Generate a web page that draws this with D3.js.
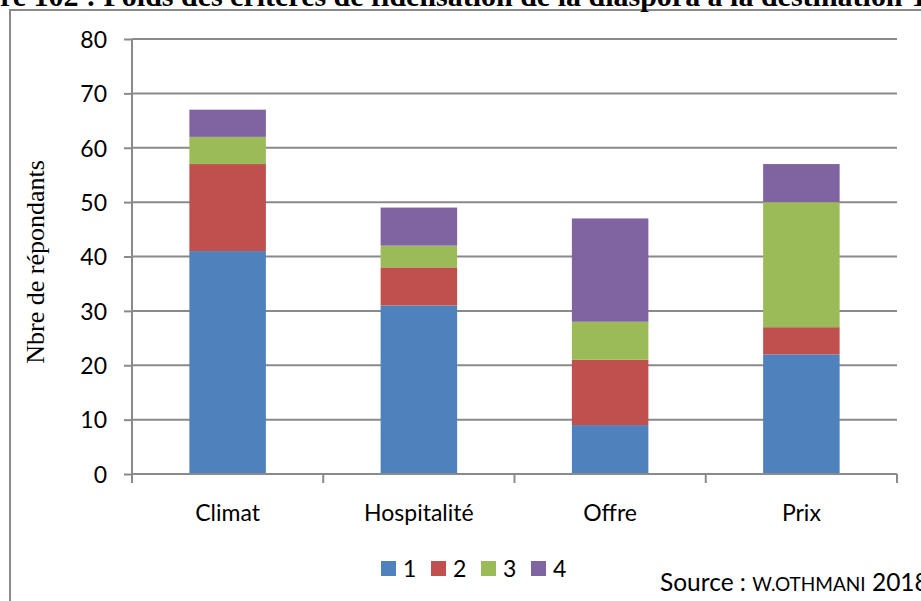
<!DOCTYPE html>
<html><head><meta charset="utf-8">
<script src="https://cdn.jsdelivr.net/npm/d3@7"></script>
<style>body{margin:0;background:#fff;overflow:hidden}svg{display:block}</style>
</head><body>
<svg id="c" width="921" height="601"></svg>
<script>
const categories = ["Climat", "Hospitalité", "Offre", "Prix"];
const seriesNames = ["1", "2", "3", "4"];
const s1 = [41, 31, 9, 22];
const s2 = [16, 7, 12, 5];
const s3 = [5, 4, 7, 23];
const s4 = [5, 7, 19, 7];
const colors = ["#4F81BD", "#C0504D", "#9BBB59", "#8064A2"];
const yTicks = [0, 10, 20, 30, 40, 50, 60, 70, 80];
const titleText = "Figure 102 : Poids des critères de fidélisation de la diaspora à la destination Tunisie";
const titlePrefix = "Figure 102 : Poids des critères de fidélisation de la diaspora à la destination ";
const titleCut = "Figu";
const yTitle = "Nbre de répondants";

const svg = d3.select("#c");
const sans = "Lato, 'Open Sans', sans-serif";
const serif = "'Liberation Serif', 'Times New Roman', serif";
const grid = "#8a8a8a";

// outer frame
svg.append("rect").attr("x", 10).attr("y", 10).attr("width", 1000).attr("height", 700)
  .attr("fill", "none").attr("stroke", grid).attr("stroke-width", 2);

// title (clipped at the top of the page)
const tt = svg.append("text").attr("y", 6).attr("font-family", serif)
  .attr("font-weight", "bold").attr("font-size", 23).text(titleText);
const tmp = svg.append("text").attr("font-family", serif).attr("font-weight", "bold")
  .attr("font-size", 23).text(titlePrefix);
const prefW = tmp.node().getComputedTextLength();
tmp.text(titleCut);
const cutW = tmp.node().getComputedTextLength();
tmp.remove();
const fs = 23 * 903 / (prefW - cutW);
tt.attr("font-size", fs).attr("x", -cutW * fs / 23);

const x = d3.scaleBand().domain(categories).range([132, 897]).paddingInner(0.6).paddingOuter(0.3);
const y = d3.scaleLinear().domain([0, 80]).range([474, 39]);

// gridlines
svg.append("g").selectAll("line").data(yTicks.filter(d => d > 0)).join("line")
  .attr("x1", 132).attr("x2", 897).attr("y1", d => y(d)).attr("y2", d => y(d))
  .attr("stroke", grid).attr("stroke-width", 2);

// y axis
const yAxis = svg.append("g").attr("transform", "translate(132,0)")
  .call(d3.axisLeft(y).tickValues(yTicks).tickSize(8).tickPadding(17).tickSizeOuter(0));
yAxis.select(".domain").remove();
yAxis.selectAll("line").attr("stroke", grid).attr("stroke-width", 2);
yAxis.selectAll("text").attr("font-family", sans).attr("font-size", 23).attr("fill", "#000")
  .attr("dy", "0.36em");
svg.append("line").attr("x1", 132).attr("x2", 132).attr("y1", y(80)).attr("y2", 483)
  .attr("stroke", grid).attr("stroke-width", 2);

// stacked bars
const rows = categories.map((c, i) => ({cat: c, "1": s1[i], "2": s2[i], "3": s3[i], "4": s4[i]}));
const stack = d3.stack().keys(seriesNames)(rows);
svg.append("g").selectAll("g").data(stack).join("g").attr("fill", (d, i) => colors[i])
  .selectAll("rect").data(d => d).join("rect")
  .attr("x", d => x(d.data.cat)).attr("width", x.bandwidth())
  .attr("y", d => y(d[1])).attr("height", d => y(d[0]) - y(d[1]));

// x axis
svg.append("line").attr("x1", 132).attr("x2", 897).attr("y1", y(0)).attr("y2", y(0))
  .attr("stroke", grid).attr("stroke-width", 2);
const bounds = categories.map(c => x(c) - x.step() * x.paddingInner() / 2);
bounds.push(x(categories[3]) + x.bandwidth() + x.step() * x.paddingInner() / 2);
svg.append("g").selectAll("line").data(bounds).join("line")
  .attr("x1", d => d).attr("x2", d => d).attr("y1", y(0)).attr("y2", 483)
  .attr("stroke", grid).attr("stroke-width", 2);
svg.append("g").selectAll("text").data(categories).join("text")
  .attr("x", d => x(d) + x.bandwidth() / 2).attr("y", 521).attr("text-anchor", "middle")
  .attr("font-family", sans).attr("font-size", 23).text(d => d);

// y title
svg.append("text").attr("transform", "translate(44,262) rotate(-90)").attr("text-anchor", "middle")
  .attr("font-family", serif).attr("font-size", 26).text(yTitle);

// legend
const lg = svg.append("g").selectAll("g").data(seriesNames).join("g")
  .attr("transform", (d, i) => `translate(${381 + i * 50},561)`);
lg.append("rect").attr("width", 15).attr("height", 15).attr("fill", (d, i) => colors[i]);
lg.append("text").attr("x", 22).attr("y", 16).attr("font-family", sans).attr("font-size", 23).text(d => d);

// source
const src = svg.append("text").attr("x", 660).attr("y", 591).attr("font-family", sans).attr("font-size", 24.5);
src.append("tspan").text("Source : ");
src.append("tspan").attr("font-size", 19).text("W.OTHMANI");
src.append("tspan").text(" 2018");
</script>
</body></html>
